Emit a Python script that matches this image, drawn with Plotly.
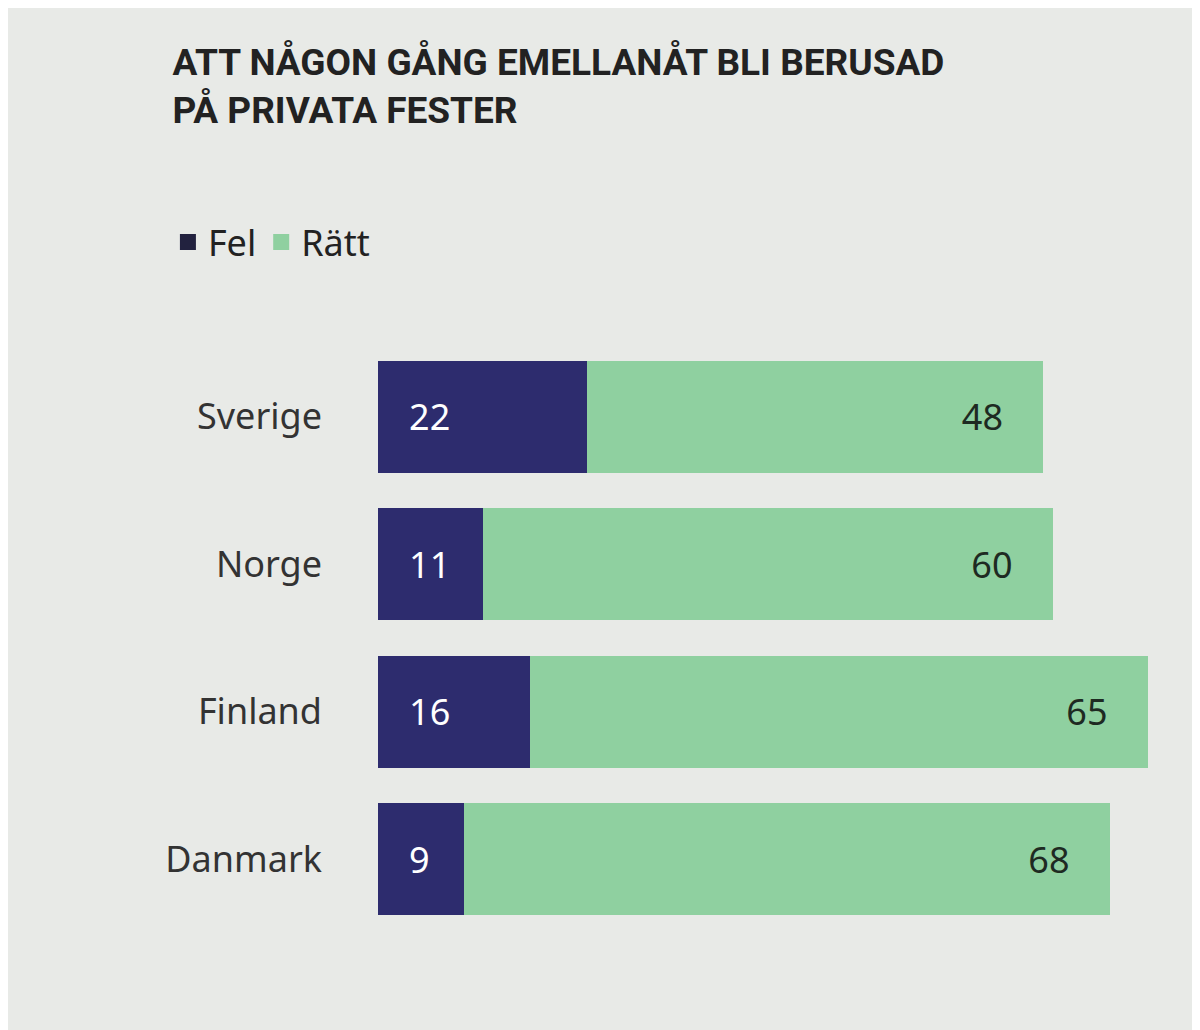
import plotly.graph_objects as go

countries = ["Sverige", "Norge", "Finland", "Danmark"]
fel = [22, 11, 16, 9]
ratt = [48, 60, 65, 68]

bg = "#e8eae7"
fel_color = "#2d2c6e"
ratt_color = "#8fd0a0"

fig = go.Figure()
fig.add_trace(go.Bar(
    y=countries, x=fel, name="Fel", orientation="h", showlegend=False,
    marker=dict(color=fel_color, line=dict(width=0)),
    texttemplate="&nbsp;&nbsp;&nbsp;%{x}", textposition="inside", insidetextanchor="start",
    textfont=dict(color="white", size=36),
))
fig.add_trace(go.Bar(
    y=countries, x=ratt, name="Rätt", orientation="h", showlegend=False,
    marker=dict(color=ratt_color, line=dict(width=0)),
    texttemplate="%{x}&nbsp;&nbsp;&nbsp;&nbsp;", textposition="inside", insidetextanchor="end",
    textfont=dict(color="#1e2a22", size=36),
))
# legend-only entries with big square swatches
for name, col in [("Fel", "#22223f"), ("Rätt", ratt_color)]:
    fig.add_trace(go.Scatter(x=[None], y=[None], mode="markers", name=name,
                             marker=dict(symbol="square", size=30, color=col)))

fig.update_layout(
    width=1200, height=1030,
    barmode="stack", bargap=0.24,
    paper_bgcolor=bg, plot_bgcolor=bg,
    font=dict(family="Noto Sans", color="#333"),
    margin=dict(l=370, r=22, t=335, b=105),
    showlegend=True,
    legend=dict(orientation="h", x=-0.26, xanchor="left", y=1.12, yanchor="bottom",
                font=dict(size=36, color="#222"), bgcolor="rgba(0,0,0,0)",
                itemsizing="trace", traceorder="normal", itemwidth=30),
    title=dict(text="<b>ATT NÅGON GÅNG EMELLANÅT BLI BERUSAD<br>PÅ PRIVATA FESTER</b>",
               x=0.137, xanchor="left", y=0.935, yanchor="top",
               font=dict(size=37, color="#222", family="Roboto")),
    uniformtext=dict(mode="show", minsize=10),
)
fig.update_xaxes(range=[0, 85], visible=False)
fig.update_yaxes(autorange="reversed", showgrid=False, ticks="", ticklen=0,
                 ticklabelstandoff=55, tickfont=dict(size=36, color="#333"))

fig.write_html("out.html")
